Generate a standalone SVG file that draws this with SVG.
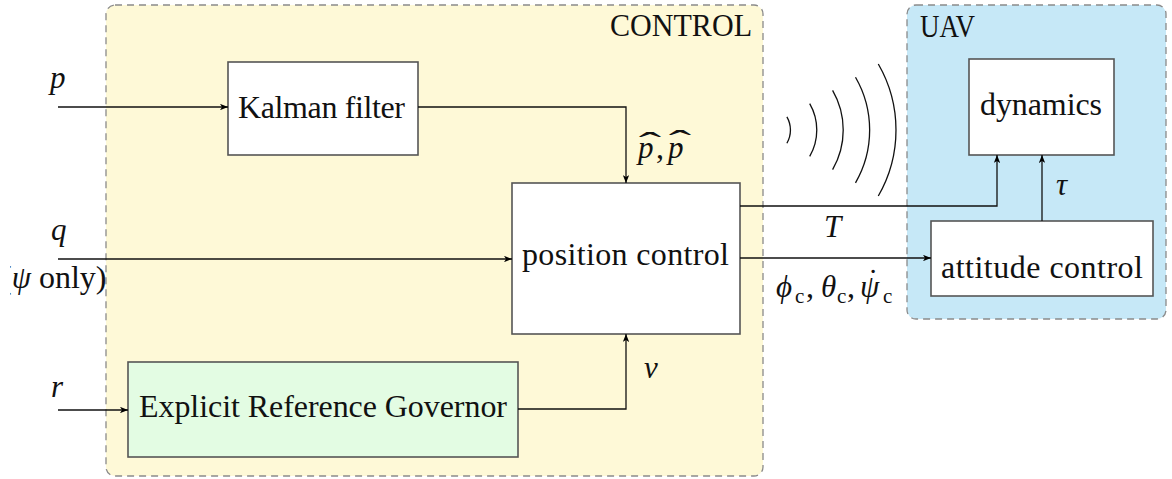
<svg xmlns="http://www.w3.org/2000/svg" width="1172" height="479" viewBox="0 0 1172 479">
  <defs>
    <marker id="arr" viewBox="0 0 10 8" refX="10" refY="4" markerWidth="8" markerHeight="6.4" orient="auto" markerUnits="userSpaceOnUse">
      <path d="M0,0 L10,4 L0,8 L2.5,4 z" fill="#000"/>
    </marker>
    <clipPath id="leftCrop">
      <rect x="10" y="0" width="200" height="479"/>
    </clipPath>
  </defs>
  <style>
    text { font-family: 'Liberation Serif', 'DejaVu Serif', serif; fill: #111; }
    .lbl { font-size: 32px; }
    .m { font-size: 31px; font-style: italic; }
    .sub { font-size: 21px; }
    .region { stroke: #8a8a8a; stroke-width: 1.3; stroke-dasharray: 7 5; }
    .box { fill: #fff; stroke: #555; stroke-width: 1.6; }
    .erg { fill: #e3fce3; }
    .wire { fill: none; stroke: #111; stroke-width: 1.3; }
    .wave { fill: none; stroke: #111; stroke-width: 1.3; }
  </style>

  <!-- shaded subsystem regions -->
  <g id="control-region">
    <rect class="region" x="106" y="5" width="657" height="471" rx="9" fill="#fef9d7"/>
    <text class="lbl" x="610" y="36" textLength="142" lengthAdjust="spacingAndGlyphs">CONTROL</text>
  </g>
  <g id="uav-region">
    <rect class="region" x="907" y="5" width="259" height="314" rx="9" fill="#c6e8f7"/>
    <text class="lbl" x="920" y="37" textLength="55" lengthAdjust="spacingAndGlyphs">UAV</text>
  </g>

  <!-- blocks -->
  <g id="kalman">
    <rect class="box" x="228" y="62" width="190" height="93"/>
    <text class="lbl" x="238" y="118" textLength="167">Kalman filter</text>
  </g>
  <g id="position-control">
    <rect class="box" x="512" y="183" width="228" height="151"/>
    <text class="lbl" x="522" y="265" textLength="207">position control</text>
  </g>
  <g id="erg">
    <rect class="box erg" x="128" y="362" width="390" height="95"/>
    <text class="lbl" x="139" y="417" textLength="368">Explicit Reference Governor</text>
  </g>
  <g id="dynamics">
    <rect class="box" x="969" y="59" width="145" height="96"/>
    <text class="lbl" x="980" y="115" textLength="122">dynamics</text>
  </g>
  <g id="attitude-control">
    <rect class="box" x="931" y="221" width="222" height="75"/>
    <text class="lbl" x="941" y="278" textLength="202">attitude control</text>
  </g>

  <!-- wireless link symbol -->
  <g id="radio">
    <path class="wave" d="M786.9,116.8 A26.4,26.4 0 0 1 786.9,143.2"/>
    <path class="wave" d="M809.7,103.6 A52.8,52.8 0 0 1 809.7,156.4"/>
    <path class="wave" d="M832.6,90.4 A79.2,79.2 0 0 1 832.6,169.6"/>
    <path class="wave" d="M855.5,77.2 A105.6,105.6 0 0 1 855.5,182.8"/>
    <path class="wave" d="M878.3,64 A132,132 0 0 1 878.3,196"/>
  </g>

  <!-- signal wires -->
  <g id="connectors">
    <path class="wire" d="M58,107 H228" marker-end="url(#arr)"/>
    <path class="wire" d="M58,259 H512" marker-end="url(#arr)"/>
    <path class="wire" d="M58,410 H128" marker-end="url(#arr)"/>
    <path class="wire" d="M418,107 H626 V183" marker-end="url(#arr)"/>
    <path class="wire" d="M518,409 H626 V334" marker-end="url(#arr)"/>
    <path class="wire" d="M740,206 H997 V155" marker-end="url(#arr)"/>
    <path class="wire" d="M740,258 H931" marker-end="url(#arr)"/>
    <path class="wire" d="M1042,221 V155" marker-end="url(#arr)"/>
  </g>

  <!-- signal labels -->
  <g id="labels">
    <text class="m" x="50" y="88">p</text>
    <text class="m" x="51" y="240">q</text>
    <text clip-path="url(#leftCrop)" class="lbl" x="1" y="288"><tspan>(</tspan><tspan class="m">ψ</tspan><tspan> only)</tspan></text>
    <text class="m" x="51" y="397">r</text>

    <text class="m" x="638" y="158">p</text>
    <text class="lbl" transform="translate(650,154) scale(2.1,1)" text-anchor="middle">ˆ</text>
    <text class="lbl" x="656" y="158">,</text>
    <text class="m" x="668" y="158">p</text>
    <text class="lbl" transform="translate(680,152) scale(2.1,1)" text-anchor="middle">ˆ</text>
    <text class="lbl" x="680" y="165" text-anchor="middle">˙</text>

    <text class="m" x="644" y="378">v</text>
    <text class="m" x="824" y="237">T</text>
    <text class="m" x="1056" y="195">τ</text>

    <text class="m" x="776" y="297">ϕ</text>
    <text class="sub" x="795" y="303">c</text>
    <text class="lbl" x="806" y="297">,</text>
    <text class="m" x="821" y="297">θ</text>
    <text class="sub" x="837" y="303">c</text>
    <text class="lbl" x="847" y="297">,</text>
    <text class="m" x="860" y="297">ψ</text>
    <text class="lbl" x="873" y="291" text-anchor="middle">˙</text>
    <text class="sub" x="883" y="303">c</text>
  </g>
</svg>
